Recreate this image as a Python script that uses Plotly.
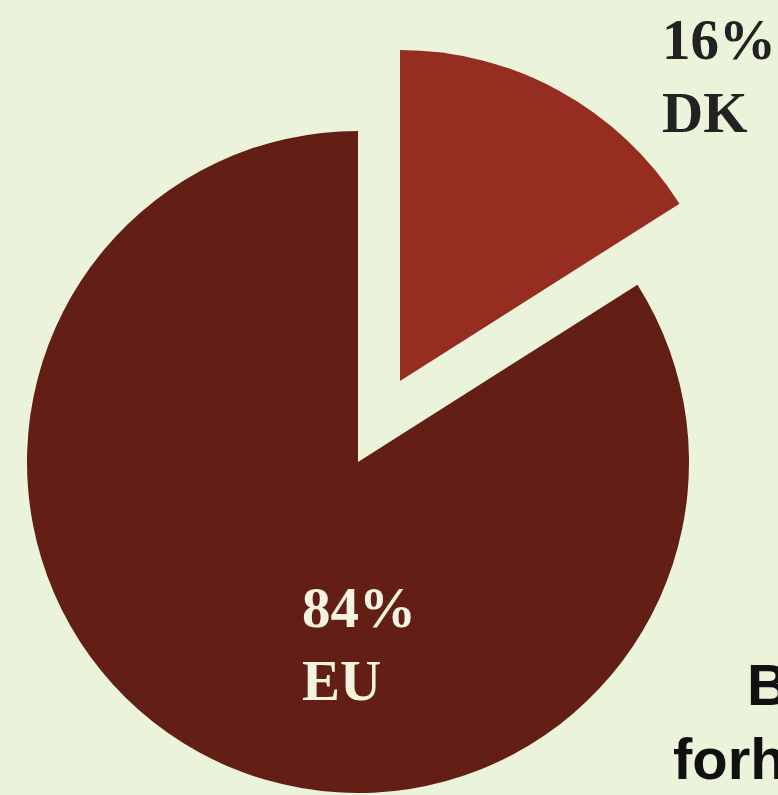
import plotly.graph_objects as go

# Data
labels = ["DK", "EU"]
values = [16, 84]
slice_colors = ["#952D20", "#631F16"]
label_colors = ["#222222", "#F3F3DF"]
title_lines = ["Bidrag", "forholdet"]

W, H = 778, 795
BG = "#EBF4DB"

fig = go.Figure()

# Main pie (EU slice visible, DK slice transparent)
fig.add_trace(go.Pie(
    labels=labels, values=values, sort=False, direction="clockwise", rotation=0,
    marker=dict(colors=["rgba(0,0,0,0)", slice_colors[1]], line=dict(width=0)),
    textinfo="none", hoverinfo="label+percent", showlegend=False,
    domain=dict(x=[27 / W, 689 / W], y=[1 - 793 / H, 1 - 131 / H]),
))
# Exploded DK slice drawn as a second pie with shifted centre
fig.add_trace(go.Pie(
    labels=labels, values=values, sort=False, direction="clockwise", rotation=0,
    marker=dict(colors=[slice_colors[0], "rgba(0,0,0,0)"], line=dict(width=0)),
    textinfo="none", hoverinfo="label+percent", showlegend=False,
    domain=dict(x=[69 / W, 731 / W], y=[1 - 712 / H, 1 - 50 / H]),
))

# Slice labels
label_pos = {"DK": (660, 40, 113), "EU": (300, 607, 680)}
total = sum(values)
for name, val, col in zip(labels, values, label_colors):
    x0, y1, y2 = label_pos[name]
    pct = round(100 * val / total)
    for txt, yy in ((f"{pct}%", y1), (name, y2)):
        fig.add_annotation(
            x=x0 / W, y=1 - yy / H, xref="paper", yref="paper",
            xanchor="left", yanchor="middle", showarrow=False, text=f"<b>{txt}</b>",
            font=dict(family="Liberation Serif", size=57, color=col),
        )

# Cropped title at bottom right
for txt, (x0, yy) in zip(title_lines, [(745, 684), (671, 758)]):
    fig.add_annotation(
        x=x0 / W, y=1 - yy / H, xref="paper", yref="paper",
        xanchor="left", yanchor="middle", showarrow=False, text=f"<b>{txt}</b>",
        font=dict(family="Liberation Sans", size=58, color="#111111"),
    )

fig.update_layout(
    width=W, height=H, margin=dict(l=0, r=0, t=0, b=0),
    paper_bgcolor=BG, plot_bgcolor=BG, showlegend=False,
)

fig.write_html(
    "out.html",
    config={"displayModeBar": False},
    post_script="document.body.style.margin='0';document.body.style.background='" + BG + "';",
)
